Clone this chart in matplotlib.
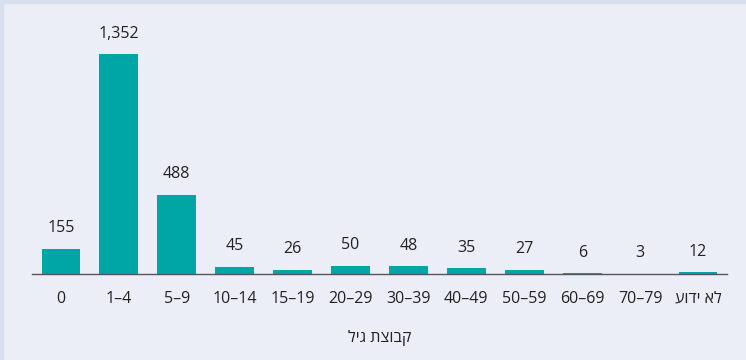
import matplotlib
matplotlib.use("Agg")
import matplotlib.pyplot as plt
from matplotlib.patches import Rectangle

# Hebrew strings are stored in visual (reversed) order since matplotlib has no bidi
categories = ["0", "1–4", "5–9", "10–14", "15–19", "20–29", "30–39",
              "40–49", "50–59", "60–69", "70–79", "עודי אל"]
counts = [155, 1352, 488, 45, 26, 50, 48, 35, 27, 6, 3, 12]
xlabel = "ליג תצובק"

BG = "#eceef7"
EDGE = "#d9dfec"
BAR = "#00a6a6"

plt.rcParams['font.family'] = ['Open Sans', 'DejaVu Sans']

fig = plt.figure(figsize=(7.46, 3.6), dpi=100, facecolor=BG)
# thin darker strip along the top and left edges
fig.patches.append(Rectangle((0, 0), 3 / 746, 1, transform=fig.transFigure,
                             color=EDGE, zorder=0))
fig.patches.append(Rectangle((0, 1 - 3 / 360), 1, 3 / 360, transform=fig.transFigure,
                             color=EDGE, zorder=0))

ax = fig.add_axes([32 / 746, 86 / 360, 695 / 746, 254 / 360])
ax.set_facecolor("none")

x = range(len(categories))
bars = ax.bar(x, counts, width=0.67, color=BAR)

for b, v in zip(bars, counts):
    ax.annotate(f"{v:,}", (b.get_x() + b.get_width() / 2, v),
                xytext=(0, 9), textcoords="offset points",
                ha="center", va="bottom", fontsize=11.5, color="#222222")

ax.set_xlim(-0.5, 11.5)
ax.set_ylim(0, 1561)
ax.set_xticks(list(x))
ax.set_xticklabels(categories, fontsize=11.5, color="#222222")
ax.tick_params(axis="x", length=0, pad=12)
ax.set_yticks([])
for s in ["top", "right", "left"]:
    ax.spines[s].set_visible(False)
ax.spines["bottom"].set_color("#555555")
ax.spines["bottom"].set_linewidth(1.0)

ax.set_xlabel(xlabel, fontsize=11.5, color="#222222", labelpad=17)

fig.savefig("out.png", dpi=100, facecolor=BG)
